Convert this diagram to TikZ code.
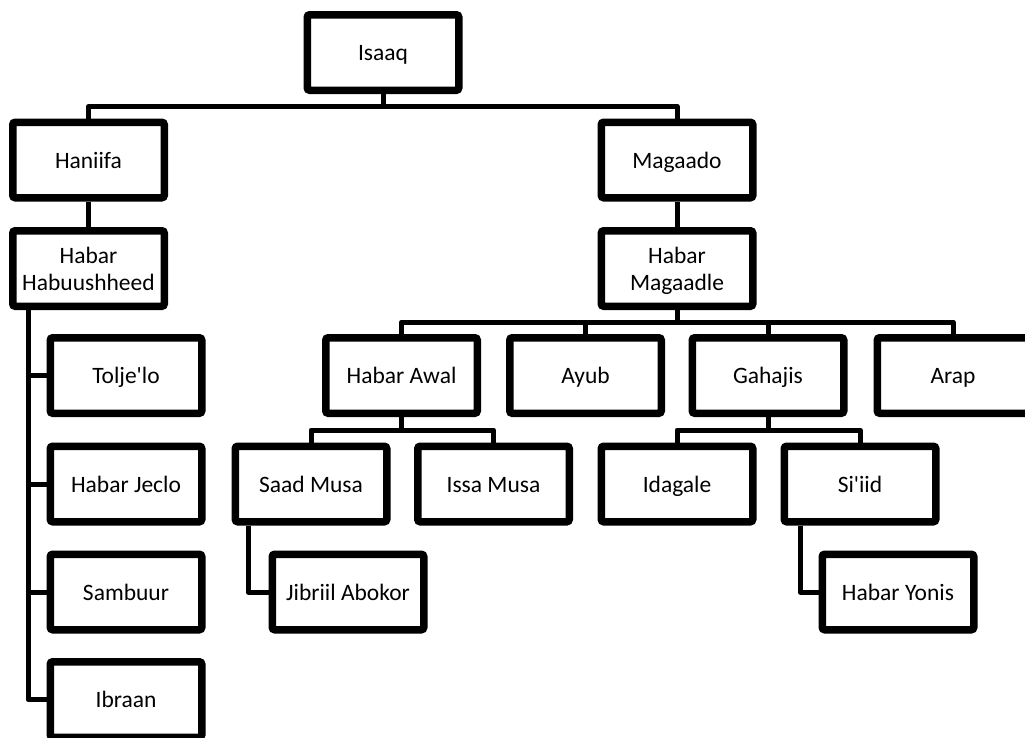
\documentclass[tikz,border=0pt]{standalone}
\usepackage{fontspec}
\setmainfont{Carlito}
\usetikzlibrary{shadows}
\begin{document}
\begin{tikzpicture}[x=1pt,y=-1pt,
  box/.style={draw=black, fill=white, line width=7.5pt, rounded corners=2.5pt,
    minimum width=151.5pt, minimum height=75.5pt, inner sep=2pt, align=center,
    font=\fontsize{23.5}{27}\selectfont, text depth=0pt,
    drop shadow={shadow xshift=2pt, shadow yshift=-3pt, opacity=0.25, fill=black}},
  single/.style={box, text height=16pt},
  conn/.style={draw=black, line width=5pt, line join=round}]
\useasboundingbox (0,0) rectangle (1025,737);
\clip (0,0) rectangle (1025,737);
% nodes
\node[single] (isaaq) at (383,52.5) {Isaaq};
\node[single] (haniifa) at (88.5,160) {Haniifa};
\node[box] (habuush) at (88.5,268.5) {Habar\\Habuushheed};
\node[single] (magaado) at (677,160) {Magaado};
\node[box] (magaadle) at (677,268.5) {Habar\\Magaadle};
\node[single] (tolje) at (126,375.5) {Tolje\textquotesingle lo};
\node[single] (jeclo) at (126,484) {Habar Jeclo};
\node[single] (sambuur) at (126,592) {Sambuur};
\node[single] (ibraan) at (126,699.5) {Ibraan};
\node[single] (awal) at (401.5,375.5) {Habar Awal};
\node[single] (ayub) at (585.5,375.5) {Ayub};
\node[single] (gahajis) at (768,375.5) {Gahajis};
\node[single] (arap) at (953,375.5) {Arap};
\node[single] (saad) at (311,484) {Saad Musa};
\node[single] (issa) at (493.5,484) {Issa Musa};
\node[single] (idagale) at (677,484) {Idagale};
\node[single] (siiid) at (860,484) {Si\textquotesingle iid};
\node[single] (jibriil) at (348,592) {Jibriil Abokor};
\node[single] (yonis) at (898,592) {Habar Yonis};
% bus coordinates
\coordinate (b1) at (383,106.5);
\coordinate (b2) at (677,322);
\coordinate (b3) at (401.5,430);
\coordinate (b4) at (768,430);
\coordinate (hl) at (28,0);
\coordinate (s1) at (248,0);
\coordinate (s2) at (800,0);
% connectors
\path[conn] (isaaq.south) -- (b1);
\path[conn] (haniifa.north) |- (b1) -| (magaado.north);
\path[conn] (haniifa.south) -- (habuush.north);
\path[conn] (magaado.south) -- (magaadle.north);
\path[conn] (magaadle.south) -- (b2);
\path[conn] (awal.north) |- (b2) -| (arap.north);
\path[conn] (ayub.north) -- (ayub.north |- b2);
\path[conn] (gahajis.north) -- (gahajis.north |- b2);
\path[conn] (awal.south) -- (b3);
\path[conn] (saad.north) |- (b3) -| (issa.north);
\path[conn] (gahajis.south) -- (b4);
\path[conn] (idagale.north) |- (b4) -| (siiid.north);
\path[conn] (habuush.south -| hl) |- (ibraan.west);
\path[conn] (tolje.west -| hl) -- (tolje.west);
\path[conn] (jeclo.west -| hl) -- (jeclo.west);
\path[conn] (sambuur.west -| hl) -- (sambuur.west);
\path[conn] (saad.south -| s1) |- (jibriil.west);
\path[conn] (siiid.south -| s2) |- (yonis.west);
\end{tikzpicture}
\end{document}
